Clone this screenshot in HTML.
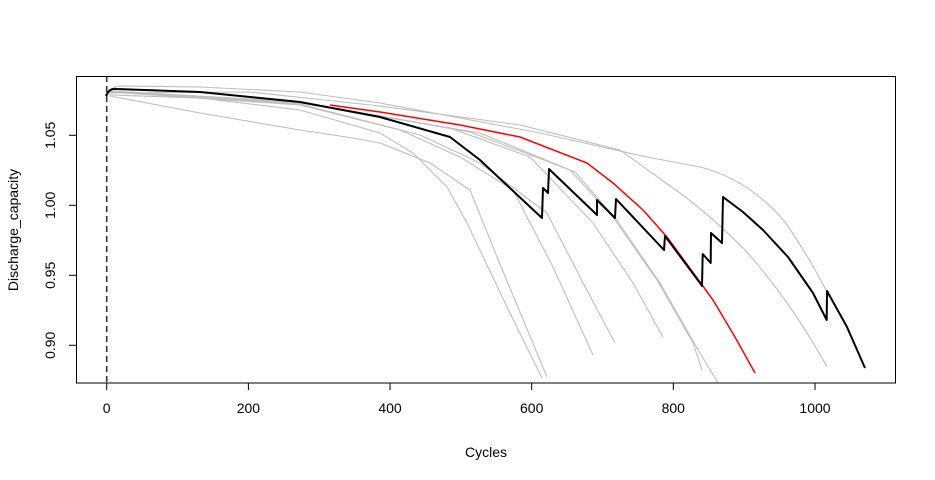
<!DOCTYPE html>
<html><head><style>
html,body{margin:0;padding:0;background:#fff;}
svg{display:block;font-family:"Liberation Sans",Arial,sans-serif;}
</style></head><body>
<svg width="935" height="480" viewBox="0 0 935 480" xmlns="http://www.w3.org/2000/svg">
<rect x="0" y="0" width="935" height="480" fill="#fff"/>
<g fill="none" stroke="#bebebe" stroke-width="1.1" stroke-linejoin="round">
<path d="M108,96 Q112,86 120,86 L200,87 L300,92 L380,103 L540,133 L647,157 L700,167 Q750,180 785,222 Q808,255 827,292"/>
<path d="M110,93 L250,92 L380,106 L520,125 L620,150 L680,193 Q710,215 745,250 Q790,300 827,367"/>
<path d="M110,95 L200,98 L300,110 L380,133 L413,153 L447,187 L467,223 L507,307 L542,378"/>
<path d="M110,96 L200,113 L300,130 L353,138 L380,143 L430,163 L470,190 L497,257 L547,377"/>
<path d="M110,92 L300,105 L400,130 L460,157 L513,190 L553,267 L593,355"/>
<path d="M110,92 L300,104 L420,135 L480,163 L547,213 L580,277 L615,343"/>
<path d="M110,91 L300,102 L450,128 L530,157 L593,223 L633,283 L663,337"/>
<path d="M110,91 L300,102 L470,132 L570,170 L613,217 L657,280 L693,343 L702,370"/>
<path d="M110,91 L300,103 L480,133 L575,172 L616,219 L660,283 L697,348 L718,383"/>
</g>
<path d="M330,105 L380,112 L460,125 L520,137 L587,163 L613,183 L643,210 L667,237 L700,282 L713,300 L735,337 L755,373" fill="none" stroke="#ff0000" stroke-width="1.5"/>
<path d="M106,96 Q109,88 116,89 L200,92 L300,102 L380,117 L450,137 L480,160 L542,218 L543,188 L548,193 L549,169 L597,215 L597,200 L615,218 L616,199 L664,250 L665,236 L700,283 L702,286 L702.7,254 L710.7,263 L711,233 L722,243 L723,197 L743,212 L763,230 L788,257 L813,293 L826.7,320 L827,291 L847,327 L865,368" fill="none" stroke="#000" stroke-width="2" stroke-linejoin="round"/>
<line x1="106.7" y1="76" x2="106.7" y2="383" stroke="#333" stroke-width="1.6" stroke-dasharray="6,4"/>
<rect x="76.5" y="76.5" width="819" height="306.5" fill="none" stroke="#000" stroke-width="1"/>
<g stroke="#000" stroke-width="1">
<line x1="106.7" y1="383" x2="815" y2="383"/>
<line x1="106.7" y1="383" x2="106.7" y2="390"/>
<line x1="248.4" y1="383" x2="248.4" y2="390"/>
<line x1="390" y1="383" x2="390" y2="390"/>
<line x1="531.7" y1="383" x2="531.7" y2="390"/>
<line x1="673.3" y1="383" x2="673.3" y2="390"/>
<line x1="815" y1="383" x2="815" y2="390"/>
<line x1="76.5" y1="135.3" x2="76.5" y2="345.3"/>
<line x1="69" y1="135.3" x2="76.5" y2="135.3"/>
<line x1="69" y1="205.3" x2="76.5" y2="205.3"/>
<line x1="69" y1="275.3" x2="76.5" y2="275.3"/>
<line x1="69" y1="345.3" x2="76.5" y2="345.3"/>
</g>
<g font-size="14" fill="#000" text-anchor="middle">
<text x="106.7" y="413">0</text>
<text x="248.4" y="413">200</text>
<text x="390" y="413">400</text>
<text x="531.7" y="413">600</text>
<text x="673.3" y="413">800</text>
<text x="815" y="413">1000</text>
<text x="486" y="457">Cycles</text>
<text transform="translate(55,135.3) rotate(-90)">1.05</text>
<text transform="translate(55,205.3) rotate(-90)">1.00</text>
<text transform="translate(55,275.3) rotate(-90)">0.95</text>
<text transform="translate(55,345.3) rotate(-90)">0.90</text>
<text transform="translate(18,230) rotate(-90)">Discharge_capacity</text>
</g>
</svg>
</body></html>
